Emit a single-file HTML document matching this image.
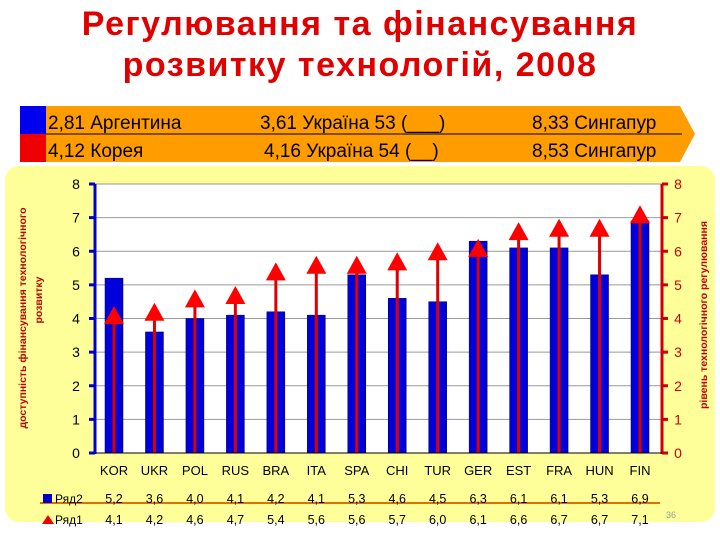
<!DOCTYPE html>
<html><head><meta charset="utf-8"><style>
body{margin:0;width:720px;height:540px;background:#fff;font-family:"Liberation Sans",sans-serif;overflow:hidden;position:relative}
.t{position:absolute;left:0;width:720px;text-align:center;color:#e00000;font-weight:bold;font-size:34px;letter-spacing:1.5px;line-height:41px}
</style></head><body>
<div class="t" style="top:4px">Регулювання та фінансування<br>розвитку технологій, 2008</div>
<svg width="720" height="540" style="position:absolute;left:0;top:0">
<rect x="5" y="166" width="710" height="356" rx="14" fill="#ffff99"/>
<rect x="20" y="106" width="26" height="28" fill="#0000ee"/>
<rect x="20" y="134" width="26" height="28" fill="#ee0000"/>
<polygon points="46,106 680,106 695,134 680,162 46,162" fill="#ff9c00"/>
<line x1="46" y1="134" x2="682" y2="134" stroke="#000" stroke-width="1"/>
<g font-size="19" fill="#000" font-family="Liberation Sans, sans-serif">
<text x="48" y="129">2,81 Аргентина</text>
<text x="260" y="129">3,61 Україна 53 (___)</text>
<text x="532" y="129">8,33 Сингапур</text>
<text x="48" y="157">4,12 Корея</text>
<text x="264" y="157">4,16 Україна 54 (__)</text>
<text x="532" y="157">8,53 Сингапур</text>
</g>
<rect x="95" y="184" width="567" height="269" fill="#fff"/>
<g id="grid"></g><g id="marks"></g><g id="axes"></g>
<text transform="translate(26,318) rotate(-90)" text-anchor="middle" font-size="10.5" font-weight="bold" fill="#c00000">доступність фінансування технологічного</text>
<text transform="translate(42,300) rotate(-90)" text-anchor="middle" font-size="10.5" font-weight="bold" fill="#c00000">розвитку</text>
<text transform="translate(707,315) rotate(-90)" text-anchor="middle" font-size="10.5" font-weight="bold" fill="#c00000">рівень технологічного регулювання</text>
<line x1="40" y1="503" x2="660" y2="503" stroke="#e07000" stroke-width="2"/>
<rect x="43" y="494" width="9" height="9" fill="#0000cc"/>
<text x="55" y="503" font-size="12">Ряд2</text>
<polygon points="42,524 48,515 54,524" fill="#ee0000"/>
<text x="55" y="524" font-size="12">Ряд1</text>
<text x="666" y="518" font-size="9" fill="#999">36</text>
</svg>
<script>
const categories=["KOR","UKR","POL","RUS","BRA","ITA","SPA","CHI","TUR","GER","EST","FRA","HUN","FIN"];
const series2=[5.2,3.6,4.0,4.1,4.2,4.1,5.3,4.6,4.5,6.3,6.1,6.1,5.3,6.9];
const series1=[4.1,4.2,4.6,4.7,5.4,5.6,5.6,5.7,6.0,6.1,6.6,6.7,6.7,7.1];
const ticks=[0,1,2,3,4,5,6,7,8];
const NS="http://www.w3.org/2000/svg";
const y=v=>453-v*(269/8);
const x=i=>114+i*(526/13);
function mk(tag,attrs,parent,text){const e=document.createElementNS(NS,tag);for(const k in attrs)e.setAttribute(k,attrs[k]);if(text!==undefined)e.textContent=text;document.getElementById(parent)?document.getElementById(parent).appendChild(e):parent.appendChild(e);return e;}
const svg=document.querySelector('svg');
ticks.forEach(t=>{
 const g=mk('line',{x1:95,x2:662,y1:y(t),y2:y(t),stroke:'#999','stroke-width':1},'grid');
 
 
 const l=mk('text',{x:76,y:y(t)+5,'font-size':14,fill:'#000','text-anchor':'middle'},'axes',String(t));
 
 
 const r=mk('text',{x:678,y:y(t)+5,'font-size':14,fill:'#cc0000','text-anchor':'middle'},'axes',String(t));
 
 
 mk('line',{x1:89,x2:95,y1:y(t),y2:y(t),stroke:'#0000cc','stroke-width':3},'axes');
 mk('line',{x1:662,x2:668,y1:y(t),y2:y(t),stroke:'#cc0000','stroke-width':3},'axes');
});
mk('line',{x1:95,x2:95,y1:184,y2:454,stroke:'#0000cc','stroke-width':3},'axes');
mk('line',{x1:662,x2:662,y1:184,y2:454,stroke:'#cc0000','stroke-width':3},'axes');
mk('line',{x1:95,x2:662,y1:453,y2:453,stroke:'#000','stroke-width':1},'axes');
categories.forEach((c,i)=>{
 const cx=x(i);
 const b=mk('rect',{x:cx-9,y:y(series2[i]),width:18,height:453-y(series2[i]),fill:'#0000dd',stroke:'#000033','stroke-width':0.5},'marks');
 
 
 const ln=mk('line',{x1:cx,x2:cx,y1:453,y2:y(series1[i]),stroke:'#dd0000','stroke-width':3},'marks');
 
 
 const v=y(series1[i]);
 const tr=mk('polygon',{points:`${cx-10},${v+9} ${cx},${v-9} ${cx+10},${v+9}`,fill:'#ff0000'},'marks');
 
 
 const cl=mk('text',{x:cx,y:475,'font-size':13,'text-anchor':'middle'},svg,c);
 
 
 const v2=mk('text',{x:cx,y:503,'font-size':12.5,'text-anchor':'middle'},svg,series2[i].toFixed(1).replace('.',','));
 
 
 const v1=mk('text',{x:cx,y:524,'font-size':12.5,'text-anchor':'middle'},svg,series1[i].toFixed(1).replace('.',','));
 
 
});
</script>
</body></html>
